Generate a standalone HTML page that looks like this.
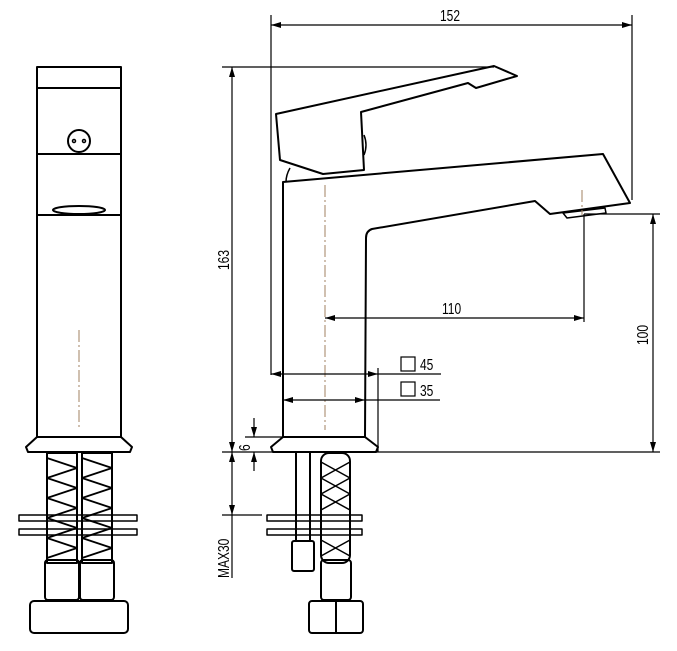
<!DOCTYPE html>
<html><head><meta charset="utf-8"><style>
html,body{margin:0;padding:0;background:#fff;width:677px;height:651px;overflow:hidden}
svg{display:block}
text{font-family:"Liberation Sans",sans-serif;font-size:16px;fill:#000}
</style></head><body>
<svg width="677" height="651" viewBox="0 0 677 651" xmlns="http://www.w3.org/2000/svg">
<defs>
<marker id="a" viewBox="0 0 10 6" refX="10" refY="3" markerWidth="10" markerHeight="6" orient="auto-start-reverse" markerUnits="userSpaceOnUse"><path d="M0,0 L10,3 L0,6z" fill="#000"/></marker>
</defs>
<g fill="none" stroke="#000" stroke-width="2" stroke-linejoin="round">
<!-- LEFT VIEW -->
<rect x="37" y="67" width="84" height="370"/>
<line x1="37" y1="88" x2="121" y2="88"/>
<line x1="37" y1="154" x2="121" y2="154"/>
<circle cx="79" cy="141" r="11"/>
<circle cx="74" cy="141" r="1.5" stroke-width="1.5"/>
<circle cx="84" cy="141" r="1.5" stroke-width="1.5"/>
<line x1="37" y1="215" x2="121" y2="215"/>
<ellipse cx="79" cy="210" rx="26" ry="4"/>
<path d="M37,437 H121 L132,447 L130,452 H28 L26,447 Z"/>
<rect x="47" y="453" width="30" height="110"/>
<rect x="82" y="453" width="30" height="110"/>
<path d="M47,458 L77,468 L47,478 L77,488 L47,498 L77,508 L47,518 L77,528 L47,538 L77,548 L47,558" stroke-width="1.8"/>
<path d="M82,458 L112,468 L82,478 L112,488 L82,498 L112,508 L82,518 L112,528 L82,538 L112,548 L82,558" stroke-width="1.8"/>
<rect x="19" y="515" width="118" height="6" stroke-width="1.5"/>
<rect x="19" y="529" width="118" height="6" stroke-width="1.5"/>
<rect x="45" y="560" width="34" height="40" rx="3"/>
<rect x="80" y="560" width="34" height="40" rx="3"/>
<rect x="30" y="601" width="98" height="32" rx="4"/>
<!-- RIGHT VIEW body -->
<path d="M283,437 L283,182 L603,154 L630,203 L550,214 L535,201 L372,229 Q366,231 366,238 L365,437"/>
<path d="M563,213 L605,208 L606,213 L567,218 Z" stroke-width="1.5"/>
<path d="M276,114 L494,66 L517,76 L476,88 L468,83 L361,112 L364,170 L323,174 L280,160 Z"/>
<path d="M364,135 Q368,145 364,155" stroke-width="1.5"/>
<path d="M290,168 Q286,175 286,182" stroke-width="1.5"/>
<path d="M283,437 H365 L378,447 L376,452 H273 L271,447 Z"/>
<line x1="296" y1="453" x2="296" y2="540"/>
<line x1="310" y1="453" x2="310" y2="540"/>
<rect x="321" y="453" width="29" height="110" rx="8"/>
<path d="M321,462 L350,478 L321,494 L350,510 M350,462 L321,478 L350,494 L321,510" stroke-width="1.5"/>
<path d="M321,540 L350,556 M350,540 L321,556" stroke-width="1.5"/>
<rect x="267" y="515" width="95" height="6" stroke-width="1.5"/>
<rect x="267" y="529" width="95" height="6" stroke-width="1.5"/>
<rect x="292" y="541" width="22" height="30" rx="2"/>
<rect x="321" y="560" width="30" height="40" rx="3"/>
<rect x="309" y="601" width="54" height="32" rx="3"/>
<line x1="336" y1="601" x2="336" y2="633"/>
</g>
<g stroke="#a08060" stroke-width="1" stroke-dasharray="12,3,2,3">
<line x1="79" y1="330" x2="79" y2="430"/>
<line x1="325" y1="185" x2="325" y2="430"/>
<line x1="582" y1="190" x2="582" y2="215"/>
</g>
<g stroke="#000" stroke-width="1.2" fill="none">
<line x1="271" y1="15" x2="271" y2="375"/>
<line x1="632" y1="15" x2="632" y2="200"/>
<line x1="271" y1="25" x2="632" y2="25" marker-start="url(#a)" marker-end="url(#a)"/>
<line x1="222" y1="67" x2="494" y2="67"/>
<line x1="232" y1="67" x2="232" y2="452" marker-start="url(#a)" marker-end="url(#a)"/>
<line x1="222" y1="452" x2="660" y2="452"/>
<line x1="232" y1="452" x2="232" y2="515" marker-start="url(#a)" marker-end="url(#a)"/>
<line x1="222" y1="515" x2="262" y2="515"/>
<line x1="232" y1="515" x2="232" y2="578"/>
<line x1="245" y1="437" x2="283" y2="437"/>
<line x1="254" y1="418" x2="254" y2="437" marker-end="url(#a)"/>
<line x1="254" y1="471" x2="254" y2="452" marker-end="url(#a)"/>
<line x1="584" y1="214" x2="660" y2="214"/>
<line x1="584" y1="214" x2="584" y2="322"/>
<line x1="653" y1="214" x2="653" y2="452" marker-start="url(#a)" marker-end="url(#a)"/>
<line x1="325" y1="318" x2="584" y2="318" marker-start="url(#a)" marker-end="url(#a)"/>
<line x1="378" y1="368" x2="378" y2="452"/>
<line x1="271" y1="374" x2="378" y2="374" marker-start="url(#a)" marker-end="url(#a)"/>
<line x1="378" y1="374" x2="441" y2="374"/>
<line x1="283" y1="400" x2="365" y2="400" marker-start="url(#a)" marker-end="url(#a)"/>
<line x1="365" y1="400" x2="440" y2="400"/>
<rect x="401" y="357" width="14" height="14"/>
<rect x="401" y="382" width="14" height="14"/>
</g>
<g>
<text transform="translate(440,21) scale(0.75,1)">152</text>
<text transform="translate(442,314) scale(0.75,1)">110</text>
<text transform="translate(420,370) scale(0.75,1)">45</text>
<text transform="translate(420,396) scale(0.75,1)">35</text>
<text transform="translate(229,270) rotate(-90) scale(0.75,1)">163</text>
<text transform="translate(648,345) rotate(-90) scale(0.75,1)">100</text>
<text transform="translate(250,451) rotate(-90) scale(0.75,1)">6</text>
<text transform="translate(229,578) rotate(-90) scale(0.75,1)">MAX30</text>
</g>
</svg>
</body></html>
